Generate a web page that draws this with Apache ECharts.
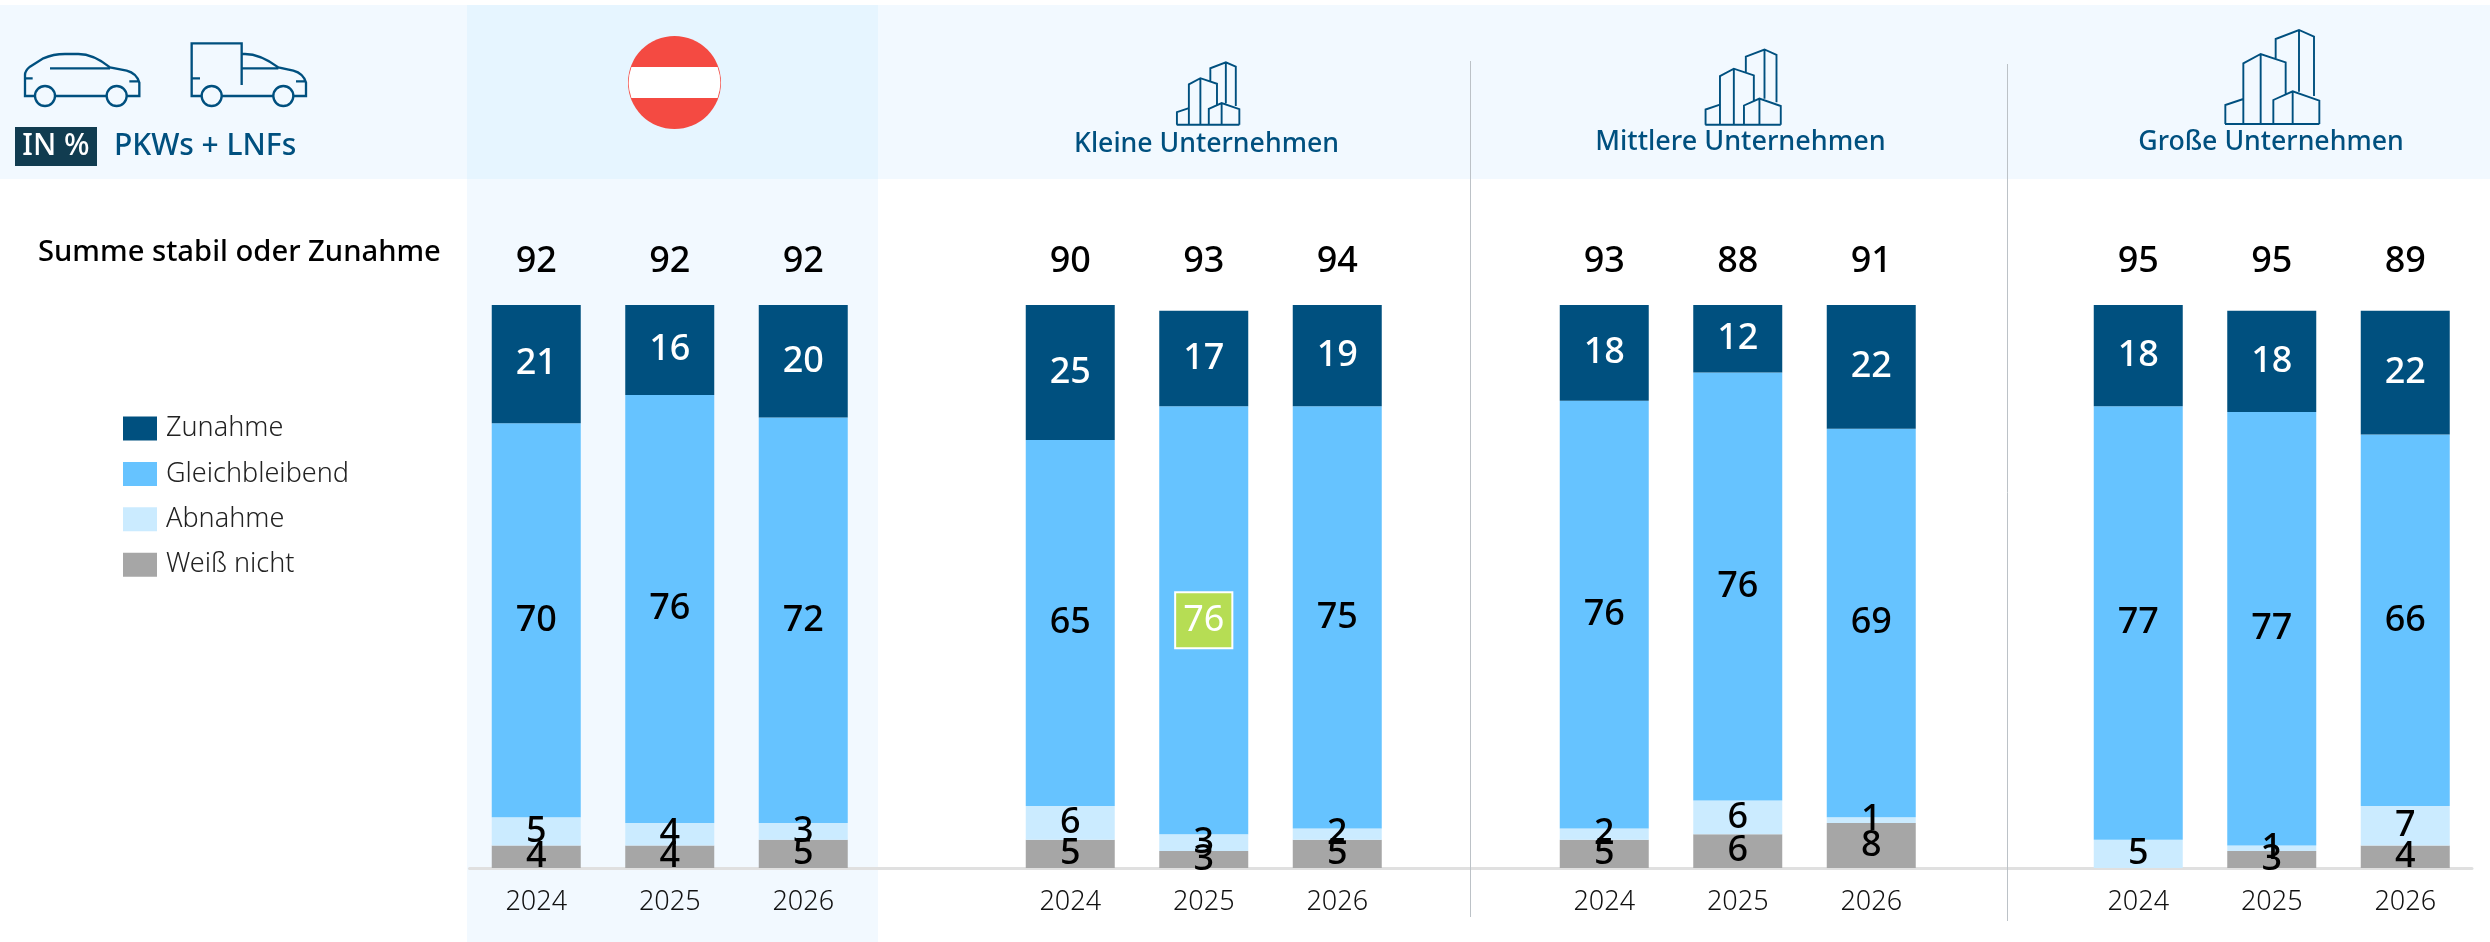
<!DOCTYPE html>
<html><head><meta charset="utf-8">
<style>html,body{margin:0;padding:0;background:#fff}#c{width:2490px;height:942px}</style>
<script src="https://cdn.jsdelivr.net/npm/echarts@6/dist/echarts.min.js"></script>
</head><body><div id="c"></div>
<script>
const years = ['2024','2025','2026','','2024','2025','2026','','2024','2025','2026','','2024','2025','2026'];
const totals = ['92','92','92','','90','93','94','','93','88','91','','95','95','89'];
const zunahme = [21,16,20,null,25,17,19,null,18,12,22,null,18,18,22];
const gleichbleibend = [70,76,72,null,65,76,75,null,76,76,69,null,77,77,66];
const abnahme = [5,4,3,null,6,3,2,null,2,6,1,null,5,1,7];
const weissNicht = [4,4,5,null,5,3,5,null,5,6,8,null,null,3,4];
const seriesNames = ['Zunahme','Gleichbleibend','Abnahme','Weiß nicht'];
const highlightIndex = 5;

const FONT = 'Noto Sans';
const BLUE = '#00507f', SKY = '#66c3ff', PALE = '#cbebff', GREY = '#a6a6a6';

const carPath = 'M75,198H45V135Q45,122 60,110L100,85Q130,72 165,72H205Q250,72 300,112L350,122Q380,130 388,158V198H352M135,198H290M120,115H300M45,145H68M358,154H388'
  +'M135,198A30,30 0 1 1 75,198A30,30 0 1 1 135,198M350,198A30,30 0 1 1 290,198A30,30 0 1 1 350,198';
const truckPath = 'M575,198H545V40H695V165M695,72H705Q750,72 805,112L850,122Q880,130 888,158V198H852M635,198H790M695,115H805M545,145H570M858,154H888'
  +'M635,198A30,30 0 1 1 575,198A30,30 0 1 1 635,198M850,198A30,30 0 1 1 790,198A30,30 0 1 1 850,198';
const buildingPath = 'M437,115V57L507,30L552,50V228M507,30V215M340,310V130L392,102L467,127V225M392,102V310M340,237L286,255V312M285,312H568M430,310V240L488,214L568,242V312M488,214V310';
const flagBandPath = 'M631.4,67A46.5,46.5 0 0 0 631.4,98H717.6A46.5,46.5 0 0 0 717.6,67Z';

echarts.graphic.registerShape('carIcon',echarts.graphic.extendPath(carPath));
echarts.graphic.registerShape('truckIcon',echarts.graphic.extendPath(truckPath));
echarts.graphic.registerShape('buildingIcon',echarts.graphic.extendPath(buildingPath));
echarts.graphic.registerShape('flagBand',echarts.graphic.extendPath(flagBandPath));

function rect(x,y,w,h,fill,z){return {type:'rect',z:z,silent:true,shape:{x,y,width:w,height:h},style:{fill}};}
function text(t,x,y,size,color,align,weight){return {type:'text',z:5,silent:true,x,y,style:{text:t,fontFamily:FONT,fontSize:size,fontWeight:weight||500,fill:color,align:align||'center',verticalAlign:'middle'}};}
function vline(x,y1,y2){return {type:'line',z:1,silent:true,shape:{x1:x,y1:y1,x2:x,y2:y2},style:{stroke:'#bcc2c7',lineWidth:1}};}
function stroke(type,lw){return {type,z:5,silent:true,style:{fill:'none',stroke:BLUE,lineWidth:lw}};}

function building(x0,base,s){
  const k=s/3;
  return {type:'group',x:x0-285*k,y:base-312*k,scaleX:k,scaleY:k,children:[stroke('buildingIcon',1.9/k)]};
}

const elements = [
  rect(0,5,2490,174,'#f2f9ff',-5),
  rect(467,179,411,763,'#f2f9ff',-5),
  rect(467,5,411,174,'#e6f5ff',-4),
  vline(1470.5,61,917),
  vline(2007.5,64,921),
  {type:'group',x:10,y:30,scaleX:1/3,scaleY:1/3,children:[stroke('carIcon',7),stroke('truckIcon',7)]},
  rect(15,127,82,39,'#113c50',3),
  text('IN %',56,146,30,'#ffffff','center',500),
  text('PKWs + LNFs',114,146,30,BLUE,'left',500),
  {type:'circle',z:3,silent:true,shape:{cx:674.5,cy:82.5,r:46.5},style:{fill:'#f44a42'}},
  {type:'flagBand',z:4,silent:true,style:{fill:'#ffffff'}},
  building(1176.7,124.7,0.664),
  building(1705.3,124.7,0.80),
  building(2225,124,1),
  text('Kleine Unternehmen',1206.5,144.5,26.7,BLUE),
  text('Mittlere Unternehmen',1740.5,142.5,27,BLUE),
  text('Große Unternehmen',2271,142.5,26.7,BLUE),
  text('Summe stabil oder Zunahme',38,253,29.2,'#000000','left',500)
];

function barSeries(name,values,color,labelColor){
  return {
    name,type:'bar',stack:'total',barWidth:89,xAxisIndex:0,yAxisIndex:0,
    itemStyle:{color},
    label:{show:true,position:'inside',color:labelColor,fontFamily:FONT,fontSize:36,fontWeight:500},
    data:values.map((v,i)=>{
      if(name==='Gleichbleibend' && i===highlightIndex){
        return {value:v,label:{color:'#ffffff',fontWeight:400,backgroundColor:'#b6dd54',borderColor:'#ffffff',borderWidth:2,padding:[10,7,8,7]}};
      }
      return v;
    })
  };
}

const chart = echarts.init(document.getElementById('c'),null,{renderer:'canvas',width:2490,height:942});
chart.setOption({
  animation:false,
  backgroundColor:'#ffffff',
  graphic:{elements},
  legend:{
    orient:'vertical',left:118,top:410,itemWidth:34,itemHeight:24,itemGap:18.4,
    icon:'rect',selectedMode:false,data:seriesNames,
    textStyle:{fontFamily:FONT,fontSize:27,fontWeight:300,color:'#222222',padding:[0,0,0,4]}
  },
  grid:{left:469.5,top:305,width:2002.5,height:563,containLabel:false},
  xAxis:[
    {type:'category',position:'bottom',data:years,
     axisLine:{show:true,lineStyle:{color:'#e0e0e0',width:3}},axisTick:{show:false},
     axisLabel:{interval:0,margin:21,fontFamily:FONT,fontSize:27,fontWeight:300,color:'#111111'}},
    {type:'category',position:'top',data:totals,
     axisLine:{show:false},axisTick:{show:false},
     axisLabel:{interval:0,margin:25,fontFamily:FONT,fontSize:36,fontWeight:500,color:'#000000'}}
  ],
  yAxis:{type:'value',min:0,max:100,show:false},
  series:[
    barSeries('Weiß nicht',weissNicht,GREY,'#000000'),
    barSeries('Abnahme',abnahme,PALE,'#000000'),
    barSeries('Gleichbleibend',gleichbleibend,SKY,'#000000'),
    barSeries('Zunahme',zunahme,BLUE,'#ffffff')
  ]
});
</script></body></html>
